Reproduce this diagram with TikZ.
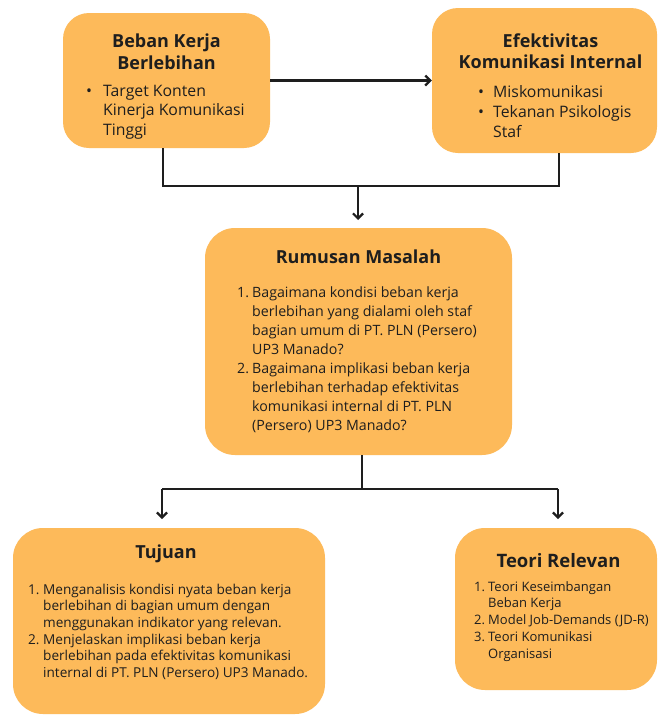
\documentclass[tikz,border=0pt]{standalone}
\usepackage{fontspec}
\setmainfont{Open Sans}
\usetikzlibrary{arrows.meta}
\definecolor{boxfill}{HTML}{FDBA5A}
\definecolor{ink}{HTML}{1E1E1E}
\begin{document}
\begin{tikzpicture}[x=1pt,y=-1pt,
  box/.style={fill=boxfill, draw=none, rounded corners=26pt, inner sep=0pt},
  ttl/.style={font=\fontsize{18}{22}\selectfont\bfseries, text=ink, inner sep=0pt, anchor=base},
  bigttl/.style={font=\fontsize{18.5}{22}\selectfont\bfseries, text=ink, inner sep=0pt, anchor=base},
  body/.style={text=ink, inner sep=0pt, anchor=base west},
  conn/.style={draw=ink, line width=2.2pt},
  arr/.style={conn, -{Straight Barb[length=5pt,width=10pt]}}]
\useasboundingbox (0,0) rectangle (657,715);
\fill[white] (0,0) rectangle (657,715);
% boxes
\node[box, minimum width=207pt, minimum height=135pt] (b1) at (166.5,80.5) {};
\node[box, minimum width=225pt, minimum height=145pt] (b2) at (544.5,80.5) {};
\node[box, minimum width=307pt, minimum height=227pt, rounded corners=30pt] (b3) at (358.5,341.5) {};
\node[box, minimum width=312pt, minimum height=186pt, rounded corners=30pt] (b4) at (169,621) {};
\node[box, minimum width=202pt, minimum height=162pt, rounded corners=30pt] (b5) at (556,609) {};
% box 1
\node[ttl] (t1a) at (166.5,47) {Beban Kerja};
\node[ttl] (t1b) at (166.5,69) {Berlebihan};
\node[body, font=\fontsize{15.8}{19.5}\selectfont] (l1) at (86,96)
 {\begin{tabular}[t]{@{}p{17pt}@{}l@{}}
 • & Target Konten\\
   & Kinerja Komunikasi\\
   & Tinggi
 \end{tabular}};
% box 2
\node[ttl] (t2a) at (550.5,47) {Efektivitas};
\node[ttl] (t2b) at (550.5,68) {Komunikasi Internal};
\node[body, font=\fontsize{15.8}{20}\selectfont] (l2) at (478,97)
 {\begin{tabular}[t]{@{}p{15pt}@{}l@{}}
 • & Miskomunikasi\\
 • & Tekanan Psikologis\\
   & Staf
 \end{tabular}};
% box 3
\node[ttl] (t3) at (358.5,263) {Rumusan Masalah};
\node[body, font=\fontsize{14.2}{19}\selectfont] (l3) at (237,297)
 {\begin{tabular}[t]{@{}p{15pt}@{}l@{}}
 1. & Bagaimana kondisi beban kerja\\
    & berlebihan yang dialami oleh staf\\
    & bagian umum di PT. PLN (Persero)\\
    & UP3 Manado?\\
 2. & Bagaimana implikasi beban kerja\\
    & berlebihan terhadap efektivitas\\
    & komunikasi internal di PT. PLN\\
    & (Persero) UP3 Manado?
 \end{tabular}};
% box 4
\node[ttl] (t4) at (166,558) {Tujuan};
\node[body, font=\fontsize{13.6}{16.7}\selectfont] (l4) at (28,594)
 {\begin{tabular}[t]{@{}p{15pt}@{}l@{}}
 1. & Menganalisis kondisi nyata beban kerja\\
    & berlebihan di bagian umum dengan\\
    & menggunakan indikator yang relevan.\\
 2. & Menjelaskan implikasi beban kerja\\
    & berlebihan pada efektivitas komunikasi\\
    & internal di PT. PLN (Persero) UP3 Manado.
 \end{tabular}};
% box 5
\node[bigttl] (t5) at (558.5,567) {Teori Relevan};
\node[body, font=\fontsize{13}{16.8}\selectfont] (l5) at (474,591)
 {\begin{tabular}[t]{@{}p{14pt}@{}l@{}}
 1. & Teori Keseimbangan\\
    & Beban Kerja\\
 2. & Model Job-Demands (JD-R)\\
 3. & Teori Komunikasi\\
    & Organisasi
 \end{tabular}};
% connectors
\draw[arr] (b1.east) -- (b2.west);
\coordinate (j1) at (163,186);
\coordinate (j2) at (559,186);
\coordinate (jm) at (358,186);
\coordinate (e3) at (358,220);
\draw[conn] (b1.south -| j1) -- (j1) -- (j2) -- (b2.south -| j2);
\draw[arr] (jm) -- (e3);
\coordinate (k0) at (362,489);
\coordinate (k1) at (162,489);
\coordinate (k2) at (558,489);
\coordinate (e4) at (162,519);
\coordinate (e5) at (558,519);
\draw[conn] (b3.south -| k0) -- (k0);
\draw[conn] (k1) -- (k2);
\draw[arr] (k1) -- (e4);
\draw[arr] (k2) -- (e5);
\end{tikzpicture}
\end{document}
